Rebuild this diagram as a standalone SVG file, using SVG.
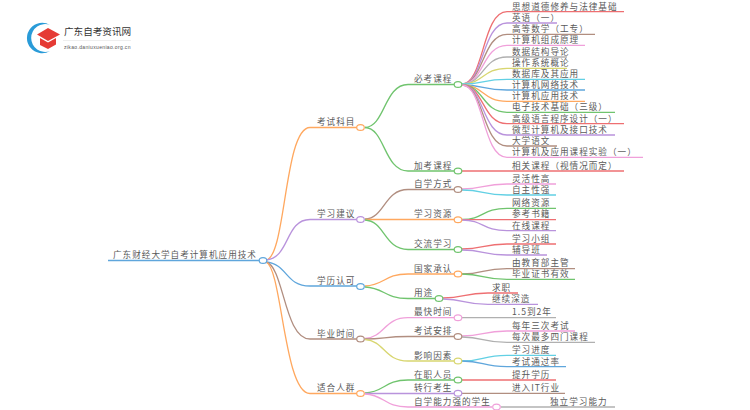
<svg xmlns="http://www.w3.org/2000/svg" width="750" height="410" viewBox="0 0 750 410">
<style>
text{font-family:"Noto Sans CJK SC","Liberation Sans",sans-serif;font-size:8.6px;letter-spacing:1px;text-spacing-trim:space-all;fill:#5a5a5a}
.c{fill:none;stroke-width:1.3}
.n{fill:#fff;stroke-width:1.2}
.r{stroke:#ee6f72}.u{stroke:#b993dc}.b{stroke:#b18e80}.p{stroke:#f0a0da}.g{stroke:#b0b0b0}.y{stroke:#d8d670}.a{stroke:#62d0e4}.l{stroke:#5fa6dc}.o{stroke:#ffa85f}.e{stroke:#70c46e}
</style>
<rect width="750" height="410" fill="#fff"/>
<g id="logo">
<path d="M50 25A15.2 15.2 0 1 0 50 51A13.9 13.9 0 1 1 50 25Z" fill="#2a9bd8"/>
<path d="M37 34.5L48 28L60 34.5L48 41Z" fill="#e53b35"/>
<path d="M40 38L48 42.5L56 38V44.5L48 49L40 45Z" fill="#e53b35"/>
<text x="64" y="35" style="font-size:9.6px;letter-spacing:0;fill:#333">广东自考资讯网</text>
<path d="M63 40.5H131" stroke="#e2e2e2" stroke-width=".6"/>
<text x="64" y="49" style="font-size:5px;fill:#555;font-family:'Liberation Sans',sans-serif;letter-spacing:.35px">zikao.daniuxueniao.org.cn</text>
</g>
<g id="connectors">
<path class="c l" d="M108 260.5H260"/>
<path class="c o" d="M266 260C286 258 284 127.5 310 127.5H357"/>
<path class="c u" d="M266 260C290 258 285 219.5 310 219.5H357"/>
<path class="c l" d="M266 262C288 264 285 286 310 286H357"/>
<path class="c b" d="M266 262C284 266 284 339 310 339H357"/>
<path class="c o" d="M266 262C282 268 284 393.5 310 393.5H357"/>

<path class="c e" d="M365 127.5C385 127 384 84.5 408 84.5H454"/>
<path class="c e" d="M365 127.5C385 128 384 171 408 171H454"/>
<path class="c b" d="M365 219C385 218 384 189.5 408 189.5H454"/>
<path class="c o" d="M365 219.5H454"/>
<path class="c e" d="M365 220C385 221 384 249.5 408 249.5H454"/>
<path class="c o" d="M365 286C385 285 384 274 408 274H454"/>
<path class="c e" d="M365 287C385 288 384 298.5 408 298.5H435"/>
<path class="c p" d="M365 338.5C385 337 384 317.7 408 317.7H454"/>
<path class="c b" d="M365 339C385 339 384 336.5 408 336.5H454"/>
<path class="c y" d="M365 339.5C385 341 384 361 408 361H454"/>
<path class="c e" d="M365 393C385 392 384 380 408 380H454"/>
<path class="c u" d="M365 393.5H454"/>
<path class="c p" d="M365 394C385 395 384 407 408 407H492"/>

<path class="c r" d="M462 84C484 84 482 11.7 507 11.7H624"/>
<path class="c u" d="M462 84C484 84 482 23 507 23H557"/>
<path class="c b" d="M462 84C484 84 482 34.3 507 34.3H595"/>
<path class="c p" d="M462 84C484 84 482 45.3 507 45.3H585"/>
<path class="c g" d="M462 84C484 84 482 57 507 57H567"/>
<path class="c y" d="M462 84C484 84 482 68.3 507 68.3H567"/>
<path class="c a" d="M462 84C484 84 482 79.3 507 79.3H585"/>
<path class="c l" d="M462 85C484 85 482 90 507 90H585"/>
<path class="c o" d="M462 85C484 85 482 101.3 507 101.3H585"/>
<path class="c e" d="M462 85C484 85 482 112.3 507 112.3H615"/>
<path class="c r" d="M462 85C484 85 482 123.7 507 123.7H624"/>
<path class="c u" d="M462 85C484 85 482 135 507 135H615"/>
<path class="c b" d="M462 85C484 85 482 146 507 146H557"/>
<path class="c p" d="M462 85C484 85 482 157.3 507 157.3H643"/>
<path class="c r" d="M462 171H624"/>
<path class="c p" d="M462 189C484 189 482 184 507 184H556"/>
<path class="c a" d="M462 190C484 190 482 195 507 195H556"/>
<path class="c e" d="M462 219.5C484 219.5 482 208.3 507 208.3H556"/>
<path class="c r" d="M462 219.7H556"/>
<path class="c u" d="M462 220C484 220 482 230.7 507 230.7H556"/>
<path class="c r" d="M462 249C484 249 482 244 507 244H556"/>
<path class="c u" d="M462 250C484 250 482 255 507 255H547"/>
<path class="c b" d="M462 274C484 274 482 268.7 507 268.7H575"/>
<path class="c e" d="M462 274C484 274 482 279.3 507 279.3H575"/>
<path class="c r" d="M443 298C465 298 463 293 488 293H518"/>
<path class="c u" d="M443 299C465 299 463 304.3 488 304.3H538"/>
<path class="c g" d="M462 317.7H556"/>
<path class="c p" d="M462 336C484 336 482 331 507 331H575"/>
<path class="c g" d="M462 337C484 337 482 342.3 507 342.3H595"/>
<path class="c a" d="M462 361C484 361 482 355.3 507 355.3H556"/>
<path class="c l" d="M462 361C484 361 482 366.7 507 366.7H566"/>
<path class="c r" d="M462 380H556"/>
<path class="c b" d="M462 393.3H565"/>
<path class="c g" d="M501 407H615"/>
</g>
<g id="root"><text x="113" y="257.5">广东财经大学自考计算机应用技术</text><ellipse class="n l" cx="263" cy="260.5" rx="3.8" ry="2.9"/></g>
<g id="n1"><text x="317" y="125">考试科目</text><ellipse class="n o" cx="360.5" cy="127.5" rx="3.8" ry="2.9"/></g>
<g id="n2"><text x="317" y="217">学习建议</text><ellipse class="n u" cx="360.5" cy="219.5" rx="3.8" ry="2.9"/></g>
<g id="n3"><text x="317" y="283.5">学历认可</text><ellipse class="n l" cx="360.5" cy="286.5" rx="3.8" ry="2.9"/></g>
<g id="n4"><text x="317" y="336.5">毕业时间</text><ellipse class="n b" cx="360.5" cy="339" rx="3.8" ry="2.9"/></g>
<g id="n5"><text x="317" y="391">适合人群</text><ellipse class="n o" cx="360.5" cy="393.5" rx="3.8" ry="2.9"/></g>

<g id="n11"><text x="414" y="82">必考课程</text><ellipse class="n e" cx="458" cy="84.5" rx="3.8" ry="2.9"/></g>
<g id="n12"><text x="414" y="168.5">加考课程</text><ellipse class="n e" cx="458" cy="171" rx="3.8" ry="2.9"/></g>
<g id="n21"><text x="414" y="187">自学方式</text><ellipse class="n b" cx="458" cy="189.5" rx="3.8" ry="2.9"/></g>
<g id="n22"><text x="414" y="217">学习资源</text><ellipse class="n o" cx="458" cy="219.7" rx="3.8" ry="2.9"/></g>
<g id="n23"><text x="414" y="247">交流学习</text><ellipse class="n e" cx="458" cy="249.5" rx="3.8" ry="2.9"/></g>
<g id="n31"><text x="414" y="271.5">国家承认</text><ellipse class="n o" cx="458" cy="274" rx="3.8" ry="2.9"/></g>
<g id="n32"><text x="414" y="296">用途</text><ellipse class="n e" cx="439" cy="298.5" rx="3.8" ry="2.9"/></g>
<g id="n41"><text x="414" y="315">最快时间</text><ellipse class="n p" cx="458" cy="317.7" rx="3.8" ry="2.9"/></g>
<g id="n42"><text x="414" y="334">考试安排</text><ellipse class="n b" cx="458" cy="336.5" rx="3.8" ry="2.9"/></g>
<g id="n43"><text x="414" y="358.5">影响因素</text><ellipse class="n y" cx="458" cy="361" rx="3.8" ry="2.9"/></g>
<g id="n51"><text x="414" y="377.5">在职人员</text><ellipse class="n e" cx="458" cy="380" rx="3.8" ry="2.9"/></g>
<g id="n52"><text x="414" y="391">转行考生</text><ellipse class="n u" cx="458" cy="393.3" rx="3.8" ry="2.9"/></g>
<g id="n53"><text x="414" y="404.5">自学能力强的学生</text><ellipse class="n p" cx="496.5" cy="407" rx="3.8" ry="2.9"/></g>

<g id="leaves">
<text x="512" y="9.5">思想道德修养与法律基础</text>
<text x="512" y="20.5">英语（一）</text>
<text x="512" y="32">高等数学（工专）</text>
<text x="512" y="43">计算机组成原理</text>
<text x="512" y="54.5">数据结构导论</text>
<text x="512" y="66">操作系统概论</text>
<text x="512" y="77">数据库及其应用</text>
<text x="512" y="88">计算机网络技术</text>
<text x="512" y="99">计算机应用技术</text>
<text x="512" y="110">电子技术基础（三级）</text>
<text x="512" y="121.5">高级语言程序设计（一）</text>
<text x="512" y="132.5">微型计算机及接口技术</text>
<text x="512" y="143.5">大学语文</text>
<text x="512" y="155">计算机及应用课程实验（一）</text>
<text x="512" y="168.5">相关课程（视情况而定）</text>
<text x="512" y="181.5">灵活性高</text>
<text x="512" y="192.5">自主性强</text>
<text x="512" y="206">网络资源</text>
<text x="512" y="217">参考书籍</text>
<text x="512" y="228.5">在线课程</text>
<text x="512" y="241.5">学习小组</text>
<text x="512" y="252.5">辅导班</text>
<text x="512" y="266">由教育部主管</text>
<text x="512" y="277">毕业证书有效</text>
<text x="492" y="290.5">求职</text>
<text x="492" y="302">继续深造</text>
<text x="512" y="315">1.5到2年</text>
<text x="512" y="328.5">每年三次考试</text>
<text x="512" y="340">每次最多四门课程</text>
<text x="512" y="353">学习进度</text>
<text x="512" y="364.5">考试通过率</text>
<text x="512" y="377.5">提升学历</text>
<text x="512" y="391">进入IT行业</text>
<text x="550" y="404.5">独立学习能力</text>
</g>
</svg>
